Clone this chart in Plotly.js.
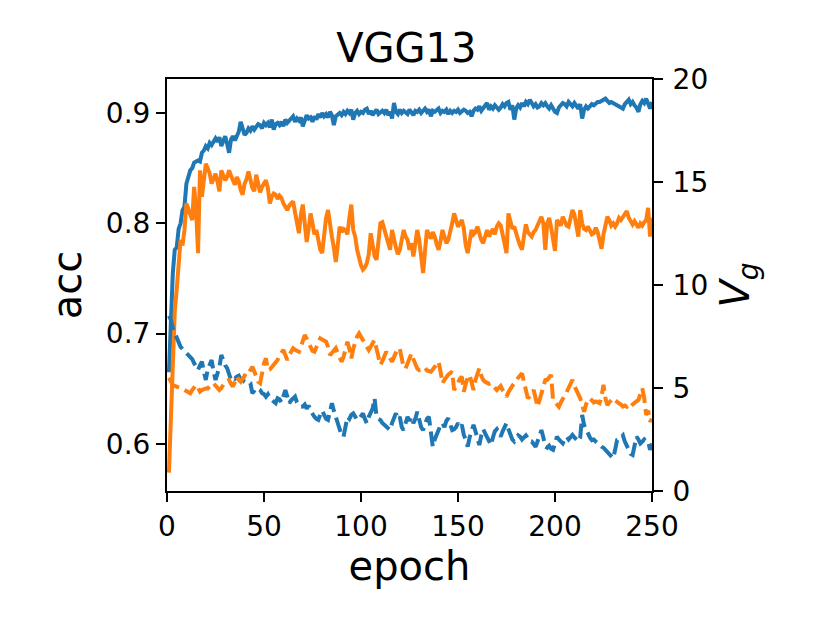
<!DOCTYPE html>
<html>
<head>
<meta charset="utf-8">
<script src="https://cdn.plot.ly/plotly-3.0.1.min.js"></script>
<style>html,body{margin:0;padding:0;background:#fff;}#chart{width:830px;height:623px;}</style>
</head>
<body>
<div id="chart"></div>
<script>
// epochs 1..250
const epochs = [];
for (let i = 1; i <= 250; i++) epochs.push(i);

// accuracy, blue solid (left axis)
const accBlue = [
0.665,0.720,0.755,0.776,0.778,0.795,0.800,0.812,0.815,0.836,
0.842,0.848,0.850,0.855,0.856,0.857,0.856,0.864,0.866,0.870,
0.868,0.873,0.871,0.875,0.877,0.874,0.878,0.870,0.876,0.879,
0.872,0.864,0.876,0.879,0.875,0.880,0.883,0.892,0.884,0.880,
0.882,0.886,0.884,0.888,0.885,0.887,0.890,0.889,0.886,0.891,
0.889,0.891,0.887,0.894,0.885,0.890,0.891,0.889,0.892,0.888,
0.894,0.891,0.893,0.896,0.897,0.892,0.895,0.893,0.896,0.888,
0.893,0.898,0.895,0.896,0.892,0.897,0.894,0.899,0.896,0.900,
0.897,0.899,0.896,0.901,0.898,0.889,0.897,0.899,0.900,0.898,
0.901,0.899,0.902,0.900,0.903,0.894,0.900,0.902,0.899,0.901,
0.900,0.903,0.904,0.899,0.902,0.898,0.901,0.903,0.899,0.901,
0.902,0.900,0.903,0.898,0.901,0.895,0.909,0.901,0.899,0.903,
0.900,0.902,0.901,0.899,0.903,0.900,0.898,0.902,0.901,0.903,
0.900,0.902,0.904,0.901,0.903,0.897,0.902,0.901,0.903,0.904,
0.900,0.902,0.901,0.903,0.899,0.902,0.900,0.902,0.901,0.903,
0.900,0.901,0.903,0.902,0.900,0.901,0.897,0.902,0.904,0.903,
0.906,0.902,0.904,0.907,0.909,0.903,0.906,0.904,0.907,0.905,
0.903,0.905,0.908,0.906,0.909,0.910,0.903,0.907,0.894,0.904,
0.907,0.905,0.909,0.906,0.910,0.908,0.912,0.909,0.906,0.908,
0.905,0.906,0.909,0.907,0.909,0.906,0.904,0.907,0.903,0.901,
0.900,0.905,0.907,0.909,0.908,0.906,0.910,0.908,0.906,0.909,
0.907,0.904,0.908,0.895,0.903,0.906,0.904,0.906,0.908,0.907,
0.909,0.910,0.910,0.911,0.912,0.913,0.911,0.909,0.910,0.909,
0.907,0.906,0.905,0.904,0.904,0.908,0.910,0.912,0.908,0.910,
0.907,0.905,0.901,0.908,0.911,0.909,0.913,0.907,0.904,0.910
];

// accuracy, orange solid (left axis)
const accOrange = [
0.574,0.620,0.680,0.720,0.740,0.770,0.785,0.780,0.794,0.818,
0.812,0.809,0.803,0.833,0.812,0.773,0.848,0.824,0.836,0.854,
0.850,0.845,0.836,0.840,0.845,0.838,0.829,0.848,0.843,0.839,
0.842,0.848,0.843,0.839,0.835,0.842,0.838,0.830,0.826,0.836,
0.840,0.847,0.838,0.832,0.829,0.844,0.836,0.828,0.833,0.837,
0.839,0.832,0.818,0.824,0.827,0.826,0.822,0.825,0.823,0.818,
0.815,0.812,0.816,0.818,0.820,0.810,0.800,0.791,0.808,0.817,
0.800,0.783,0.795,0.809,0.800,0.790,0.794,0.785,0.776,0.773,
0.790,0.805,0.812,0.798,0.788,0.778,0.765,0.780,0.797,0.792,
0.795,0.794,0.790,0.805,0.817,0.794,0.788,0.776,0.767,0.762,
0.758,0.760,0.764,0.772,0.791,0.780,0.770,0.767,0.785,0.800,
0.801,0.795,0.786,0.780,0.776,0.794,0.785,0.778,0.772,0.776,
0.785,0.794,0.788,0.785,0.776,0.782,0.770,0.780,0.794,0.785,
0.770,0.755,0.775,0.794,0.790,0.786,0.792,0.788,0.781,0.776,
0.784,0.794,0.788,0.782,0.785,0.795,0.800,0.809,0.802,0.797,
0.800,0.803,0.795,0.780,0.773,0.786,0.794,0.790,0.792,0.797,
0.790,0.785,0.782,0.790,0.794,0.788,0.792,0.795,0.790,0.797,
0.800,0.798,0.790,0.780,0.773,0.809,0.800,0.795,0.797,0.790,
0.785,0.780,0.776,0.788,0.799,0.792,0.790,0.788,0.792,0.794,
0.798,0.802,0.806,0.800,0.776,0.800,0.805,0.796,0.785,0.775,
0.803,0.800,0.798,0.806,0.802,0.798,0.797,0.805,0.812,0.808,
0.800,0.788,0.812,0.800,0.795,0.794,0.797,0.793,0.790,0.791,
0.796,0.792,0.785,0.777,0.790,0.800,0.806,0.803,0.798,0.800,
0.797,0.800,0.805,0.803,0.806,0.808,0.811,0.805,0.801,0.799,
0.802,0.798,0.796,0.800,0.798,0.801,0.803,0.814,0.788,0.805
];

// V_g, blue dashed (right axis)
const vgBlue = [
8.50,8.30,7.90,7.66,7.40,7.20,7.00,6.90,6.80,6.70,
6.60,6.52,6.40,6.20,6.00,5.87,6.10,6.28,5.80,5.39,
5.90,6.10,6.36,5.80,5.39,5.70,6.00,6.60,6.30,6.10,
5.96,5.60,5.39,5.50,5.45,5.55,5.60,5.40,5.39,5.30,
5.25,5.30,5.23,4.74,4.90,5.00,4.95,4.90,4.75,4.70,
4.58,4.70,4.50,4.40,4.30,4.26,4.50,4.45,4.30,4.60,
4.90,4.60,4.26,4.40,4.50,4.58,4.30,4.20,4.09,4.10,
4.20,4.00,4.15,3.90,3.70,3.60,3.50,3.45,3.70,3.90,
3.70,3.50,3.45,3.80,4.26,3.90,3.50,3.30,3.00,2.70,
2.64,3.10,3.60,3.50,3.70,3.77,3.60,3.45,3.50,3.60,
3.77,3.50,3.29,3.60,3.80,4.00,4.50,3.60,3.50,3.45,
3.30,3.20,3.10,3.00,2.96,3.30,3.60,3.77,3.50,3.60,
3.10,2.96,3.30,3.60,3.40,3.60,3.29,3.50,3.85,3.40,
3.10,2.96,3.30,3.50,3.60,3.00,2.15,2.50,2.80,2.96,
3.20,3.30,3.10,3.40,3.53,3.20,2.96,3.00,3.10,3.30,
3.10,3.21,2.72,2.50,2.15,2.60,3.00,3.21,2.90,2.50,
2.23,2.70,3.00,2.80,2.60,2.40,2.23,2.60,2.90,3.00,
2.80,2.64,2.90,3.10,3.29,3.00,2.70,2.50,2.40,2.60,
2.70,2.64,2.50,2.60,2.70,2.55,2.40,2.40,2.30,2.15,
2.40,2.70,2.96,2.60,2.15,2.10,2.20,2.05,2.00,2.30,
2.64,2.50,2.40,2.31,2.50,2.64,2.50,2.60,2.72,2.60,
2.50,2.40,2.60,3.69,3.20,2.96,2.80,2.60,2.47,2.50,
2.40,2.30,2.20,2.15,2.10,2.00,1.90,1.80,1.70,1.59,
2.00,2.47,2.50,2.60,2.70,2.40,2.20,2.00,1.80,1.75,
2.20,2.64,2.50,2.31,2.40,2.50,2.40,2.40,2.00,2.30
];

// V_g, orange dashed (right axis)
const vgOrange = [
5.50,5.30,5.15,5.10,5.07,5.05,5.00,4.95,4.90,4.85,
4.80,4.74,4.90,5.05,5.15,5.00,4.82,4.90,4.95,4.98,
4.98,5.10,5.20,5.23,5.10,5.00,4.90,5.00,5.20,5.30,
5.35,5.39,5.20,5.07,5.30,5.55,5.40,5.30,5.45,5.60,
5.55,5.70,5.90,6.03,5.80,5.50,5.30,5.23,5.80,6.20,
6.44,5.87,5.90,6.00,6.10,6.20,6.36,6.60,6.75,6.84,
6.60,6.36,6.60,6.80,6.93,6.85,6.80,6.76,7.00,7.30,
7.57,7.40,7.20,7.00,6.80,6.76,7.00,7.20,7.41,7.35,
7.30,7.25,7.00,6.60,6.70,6.80,6.93,6.70,6.50,6.28,
6.50,6.90,7.25,6.90,6.44,6.90,7.30,7.50,7.65,7.50,
7.33,7.20,7.00,6.84,7.00,7.20,7.33,6.90,6.40,6.12,
6.30,6.50,6.76,6.60,6.40,6.28,6.50,6.70,6.93,6.90,
6.50,6.00,5.95,6.20,6.45,6.68,6.40,6.10,5.95,5.87,
5.90,5.95,6.00,5.85,5.80,5.79,5.90,6.05,6.15,6.28,
5.80,5.23,5.40,5.55,5.65,5.72,5.79,4.90,5.10,5.30,
5.45,5.55,4.82,5.20,5.50,5.63,5.30,4.90,5.40,5.70,
5.96,5.60,5.39,5.30,5.25,5.20,5.23,5.10,5.00,4.90,
5.00,5.10,4.90,4.70,4.58,4.80,5.00,5.10,5.23,5.40,
5.50,5.60,5.71,5.30,4.90,4.50,4.60,4.80,4.90,4.50,
4.09,4.40,4.80,5.10,5.39,5.40,5.50,5.63,4.42,4.30,
4.20,4.09,4.30,4.45,4.58,4.80,5.00,5.20,5.39,5.10,
4.90,4.80,4.50,4.20,3.85,4.20,4.42,4.50,4.40,4.30,
4.35,4.30,4.26,4.60,5.15,4.50,4.17,4.30,4.40,4.50,
4.40,4.30,4.26,4.20,4.10,4.15,4.09,4.20,4.10,4.20,
4.30,4.35,4.42,4.80,4.98,4.50,3.69,3.90,3.37,3.50
];

const xTicks = [0, 50, 100, 150, 200, 250];
const yTicks = [0.6, 0.7, 0.8, 0.9];
const y2Ticks = [0, 5, 10, 15, 20];

const BLUE = '#1f77b4', ORANGE = '#ff7f0e';
const FONT = 'DejaVu Sans, sans-serif';
const LW = 4;

const traces = [
  {x: epochs, y: accBlue, type: 'scatter', mode: 'lines', yaxis: 'y', line: {color: BLUE, width: LW}, name: 'acc1'},
  {x: epochs, y: accOrange, type: 'scatter', mode: 'lines', yaxis: 'y', line: {color: ORANGE, width: LW}, name: 'acc2'},
  {x: epochs, y: vgBlue, type: 'scatter', mode: 'lines', yaxis: 'y2', line: {color: BLUE, width: LW, dash: '15px,6px'}, name: 'vg1'},
  {x: epochs, y: vgOrange, type: 'scatter', mode: 'lines', yaxis: 'y2', line: {color: ORANGE, width: LW, dash: '15px,6px'}, name: 'vg2'}
];

const axisCommon = {
  showgrid: false, zeroline: false, showline: true, linecolor: '#000', linewidth: 2,
  ticks: 'outside', ticklen: 9, tickwidth: 2, tickcolor: '#000',
  tickfont: {family: FONT, size: 28, color: '#000'}
};

const layout = {
  width: 830, height: 623,
  margin: {l: 167, r: 178, t: 79, b: 132, pad: 0},
  paper_bgcolor: '#fff', plot_bgcolor: '#fff',
  showlegend: false,
  title: {text: 'VGG13', font: {family: FONT, size: 40, color: '#000'}, x: 0.4934, xanchor: 'center', y: 0.923, yanchor: 'middle', xref: 'paper', yref: 'container'},
  xaxis: Object.assign({}, axisCommon, {
    range: [0, 250], tickvals: xTicks, ticktext: xTicks.map(String), mirror: true,
    title: {text: 'epoch', font: {family: FONT, size: 40, color: '#000'}, standoff: 10}
  }),
  yaxis: Object.assign({}, axisCommon, {
    range: [0.5574, 0.9308], tickvals: yTicks, ticktext: yTicks.map(v => v.toFixed(1)),
    title: {text: 'acc', font: {family: FONT, size: 40, color: '#000'}, standoff: 12}
  }),
  yaxis2: Object.assign({}, axisCommon, {
    range: [0, 20], tickvals: y2Ticks, ticktext: y2Ticks.map(String),
    overlaying: 'y', side: 'right', ticklabelstandoff: 4,
    title: {text: '<i>V</i><sub><i>g</i></sub>', font: {family: FONT, size: 40, color: '#000'}, standoff: 14}
  })
};

Plotly.newPlot('chart', traces, layout, {displayModeBar: false, staticPlot: true});
</script>
</body>
</html>
